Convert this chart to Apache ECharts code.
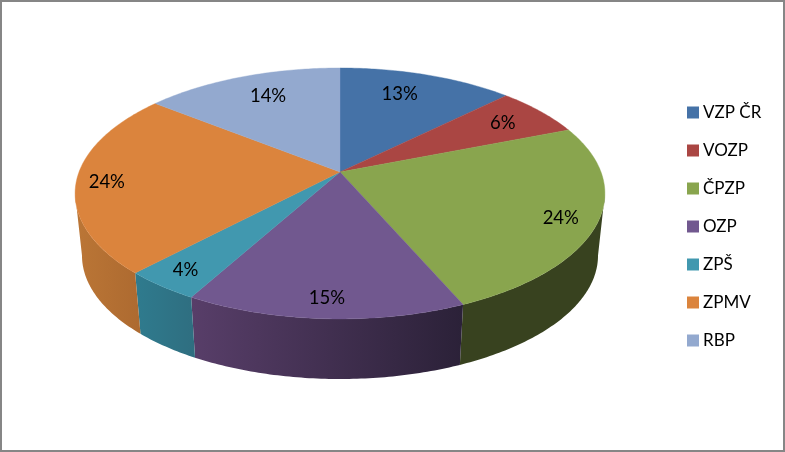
<!DOCTYPE html>
<html>
<head>
<meta charset="utf-8">
<style>html,body{margin:0;padding:0;background:#fff}#c{width:785px;height:452px}</style>
<script src="https://cdn.jsdelivr.net/npm/echarts@6/dist/echarts.min.js"></script>
</head>
<body>
<div id="c"></div>
<script>
// Data
const categories = ['VZP ČR', 'VOZP', 'ČPZP', 'OZP', 'ZPŠ', 'ZPMV', 'RBP'];
const shares = [12.6, 6.4, 24.45, 14.55, 4.0, 23.6, 14.3];

// Styles
const topColors = ['#4572A7', '#AA4643', '#89A54E', '#71588F', '#4198AF', '#DB843D', '#93A9CF'];
const sideFrom = ['#2f4d70', '#722f2d', '#38421f', '#583e69', '#2f7b8e', '#bb7636', '#63728b'];
const sideTo = ['#2f4d70', '#722f2d', '#38421f', '#2b2138', '#2f6e80', '#ad6a30', '#63728b'];
const labelRadius = [0.76, 0.80, 0.87, 0.88, 0.88, 0.885, 0.766];
const labelTurn = [-3, 0, 1.5, 0, 0, -1, 2];
const FONT = 'Lato';

// Perspective disc: maps a unit-circle angle (clockwise from the back) onto the screen
const geo = { cx: 340, cy: 172, b: 261, a: 121.8, k: 0.171 };
const rimLow = { sx: 0.974, sy: 0.984, y0: 193.4, y1: 255.5 };

function disc(deg, r) {
  const t = deg * Math.PI / 180;
  const u = r * Math.sin(t), v = -r * Math.cos(t);
  const d = 1 - geo.k * v;
  return [geo.cx + geo.b * u / d, geo.cy + geo.a * v / d];
}
function lower(p) {
  return [geo.cx + (p[0] - geo.cx) * rimLow.sx, rimLow.y1 + (p[1] - rimLow.y0) * rimLow.sy];
}
function arc(a0, a1) {
  const n = Math.max(2, Math.ceil(Math.abs(a1 - a0) / 0.75));
  const out = [];
  for (let i = 0; i <= n; i++) out.push(disc(a0 + (a1 - a0) * i / n, 1));
  return out;
}

const total = shares.reduce((s, v) => s + v, 0);
const frontStart = Math.acos(-geo.k) * 180 / Math.PI;
const frontEnd = 360 - frontStart;

function makeSeries(name, i) {
  const before = shares.slice(0, i).reduce((s, v) => s + v, 0);
  return {
    type: 'custom',
    name: name,
    coordinateSystem: 'none',
    silent: true,
    animation: false,
    itemStyle: { color: topColors[i] },
    data: [[shares[i]]],
    renderItem: function (params, api) {
      const a0 = before / total * 360;
      const a1 = a0 + api.value(0) / total * 360;
      const mid = (a0 + a1) / 2 + labelTurn[i];
      const children = [];
      const f0 = Math.max(a0, frontStart), f1 = Math.min(a1, frontEnd);
      if (f1 > f0) {
        const up = arc(f0, f1);
        const low = up.map(lower).reverse();
        const xs = up.concat(low).map(p => p[0]);
        const xMin = Math.min.apply(null, xs), xMax = Math.max.apply(null, xs);
        children.push({
          type: 'polygon',
          shape: { points: up.concat(low) },
          style: {
            fill: new echarts.graphic.LinearGradient(xMin, 0, xMax, 0, [
              { offset: 0, color: sideFrom[i] }, { offset: 1, color: sideTo[i] }
            ], true),
            stroke: null
          }
        });
      }
      children.push({
        type: 'polygon',
        shape: { points: [[geo.cx, geo.cy]].concat(arc(a0, a1)) },
        style: { fill: topColors[i], stroke: topColors[i], lineWidth: 0.4 }
      });
      const lp = disc(mid, labelRadius[i]);
      children.push({
        type: 'text',
        z2: 10,
        style: {
          text: Math.round(api.value(0) / total * 100) + '%',
          x: lp[0], y: lp[1],
          align: 'center', verticalAlign: 'middle',
          font: '18.5px ' + FONT, fill: '#000'
        }
      });
      return { type: 'group', children: children };
    }
  };
}

const chart = echarts.init(document.getElementById('c'), null, { renderer: 'canvas' });
chart.setOption({
  animation: false,
  backgroundColor: '#fff',
  legend: {
    orient: 'vertical',
    left: 687, top: 104,
    padding: 0,
    icon: 'rect',
    itemWidth: 12, itemHeight: 12,
    itemGap: 21,
    selectedMode: false,
    data: categories,
    textStyle: { fontFamily: FONT, fontSize: 17, color: '#000', padding: [0, 0, 0, -1], lineHeight: 17 }
  },
  graphic: [{
    type: 'rect', silent: true, z: -1,
    shape: { x: 1, y: 1, width: 783, height: 450 },
    style: { fill: 'none', stroke: '#868686', lineWidth: 2 }
  }],
  series: categories.map(makeSeries)
});
</script>
</body>
</html>
